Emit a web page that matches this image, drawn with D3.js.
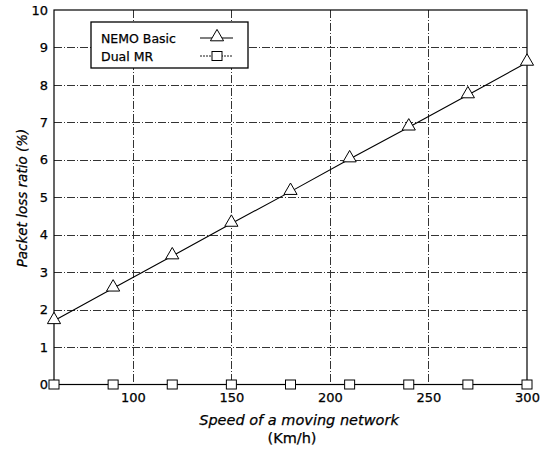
<!DOCTYPE html>
<html>
<head>
<meta charset="utf-8">
<script src="https://cdn.jsdelivr.net/npm/d3@7"></script>
<style>
  body { margin: 0; background: #fff; }
  svg text { font-family: "DejaVu Sans", Verdana, sans-serif; fill: #000; stroke: #000; stroke-width: 0.25px; }
</style>
</head>
<body>
<svg id="chart" width="548" height="450"></svg>
<script>
// Speed (km/h) at each simulation run
const speeds = [60, 90, 120, 150, 180, 210, 240, 270, 300];
// Packet loss ratio (%) for each scheme
const nemoBasic = [1.7, 2.57, 3.43, 4.3, 5.15, 6.02, 6.87, 7.73, 8.6];
const dualMR = [0, 0, 0, 0, 0, 0, 0, 0, 0];
const xTicks = [100, 150, 200, 250, 300];
const yTicks = [0, 1, 2, 3, 4, 5, 6, 7, 8, 9, 10];
const seriesNames = ["NEMO Basic", "Dual MR"];

const svg = d3.select("#chart");
const plotL = 54, plotR = 527, plotT = 10, plotB = 384.5;

const x = d3.scaleLinear().domain([60, 300]).range([plotL, plotR]);
const y = d3.scaleLinear().domain([0, 10]).range([plotB, plotT]);

// grid
const grid = svg.append("g").attr("stroke", "#333").attr("stroke-width", 1)
  .attr("stroke-dasharray", "8,2,1,2");
grid.selectAll("line.h").data(yTicks.filter(d => d > 0 && d < 10)).join("line")
  .attr("class", "h")
  .attr("x1", plotL).attr("x2", plotR)
  .attr("y1", d => Math.round(y(d)) + 0.5).attr("y2", d => Math.round(y(d)) + 0.5);
grid.selectAll("line.v").data(xTicks.filter(d => d < 300)).join("line")
  .attr("class", "v")
  .attr("y1", plotT).attr("y2", plotB)
  .attr("x1", d => Math.round(x(d)) + 0.5).attr("x2", d => Math.round(x(d)) + 0.5);

// frame
svg.append("rect").attr("x", plotL).attr("y", plotT)
  .attr("width", plotR - plotL).attr("height", plotB - plotT)
  .attr("fill", "none").attr("stroke", "#000").attr("stroke-width", 1.2);

// axes
const xAxis = svg.append("g").attr("transform", `translate(0,${plotB})`)
  .call(d3.axisBottom(x).tickValues(xTicks).tickSize(0).tickPadding(8));
xAxis.select(".domain").remove();
xAxis.selectAll("text").attr("font-size", 13);

const yAxis = svg.append("g").attr("transform", `translate(${plotL},0)`)
  .call(d3.axisLeft(y).tickValues(yTicks).tickSize(0).tickPadding(6));
yAxis.select(".domain").remove();
yAxis.selectAll("text").attr("font-size", 13);

// NEMO Basic line with triangles
const line = d3.line().x((d, i) => x(speeds[i])).y(d => y(d));
svg.append("path").datum(nemoBasic).attr("d", line)
  .attr("fill", "none").attr("stroke", "#000").attr("stroke-width", 1.1);

const tri = d3.symbol().type(d3.symbolTriangle).size(75);
svg.selectAll("path.tri").data(nemoBasic).join("path")
  .attr("class", "tri")
  .attr("d", tri)
  .attr("transform", (d, i) => `translate(${x(speeds[i])},${y(d) - 1})`)
  .attr("fill", "#fff").attr("stroke", "#000").attr("stroke-width", 1);

// Dual MR squares
svg.append("path").datum(dualMR).attr("d", line)
  .attr("fill", "none").attr("stroke", "#000").attr("stroke-width", 1.1);
svg.selectAll("rect.sq").data(dualMR).join("rect")
  .attr("class", "sq")
  .attr("x", (d, i) => x(speeds[i]) - 5).attr("y", d => y(d) - 4.5)
  .attr("width", 10).attr("height", 9)
  .attr("fill", "#fff").attr("stroke", "#000").attr("stroke-width", 1);

// legend
const lg = svg.append("g");
lg.append("rect").attr("x", 91).attr("y", 22).attr("width", 157).attr("height", 46)
  .attr("fill", "#fff").attr("stroke", "#000").attr("stroke-width", 1.3);
seriesNames.forEach((name, i) => {
  const ly = 38 + i * 18;
  lg.append("text").attr("x", 101).attr("y", ly + 4.5).attr("font-size", 12.5).text(name);
  lg.append("line").attr("x1", 200).attr("x2", 233).attr("y1", ly).attr("y2", ly)
    .attr("stroke", "#000").attr("stroke-width", i === 0 ? 1.1 : 0.9)
    .attr("stroke-dasharray", i === 0 ? null : "2,1");
  if (i === 0) {
    lg.append("path").attr("d", tri).attr("transform", `translate(217,${ly - 1})`)
      .attr("fill", "#fff").attr("stroke", "#000");
  } else {
    lg.append("rect").attr("x", 212).attr("y", ly - 4.5).attr("width", 10).attr("height", 9)
      .attr("fill", "#fff").attr("stroke", "#000");
  }
});

// axis titles
svg.append("text").attr("transform", "translate(27,198) rotate(-90)")
  .attr("text-anchor", "middle").attr("font-size", 13.5).attr("font-style", "italic")
  .text("Packet loss ratio (%)");
svg.append("text").attr("x", 299).attr("y", 425)
  .attr("text-anchor", "middle").attr("font-size", 14.5).attr("font-style", "italic")
  .text("Speed of a moving network");
svg.append("text").attr("x", 292).attr("y", 443)
  .attr("text-anchor", "middle").attr("font-size", 14.5)
  .text("(Km/h)");
</script>
</body>
</html>
